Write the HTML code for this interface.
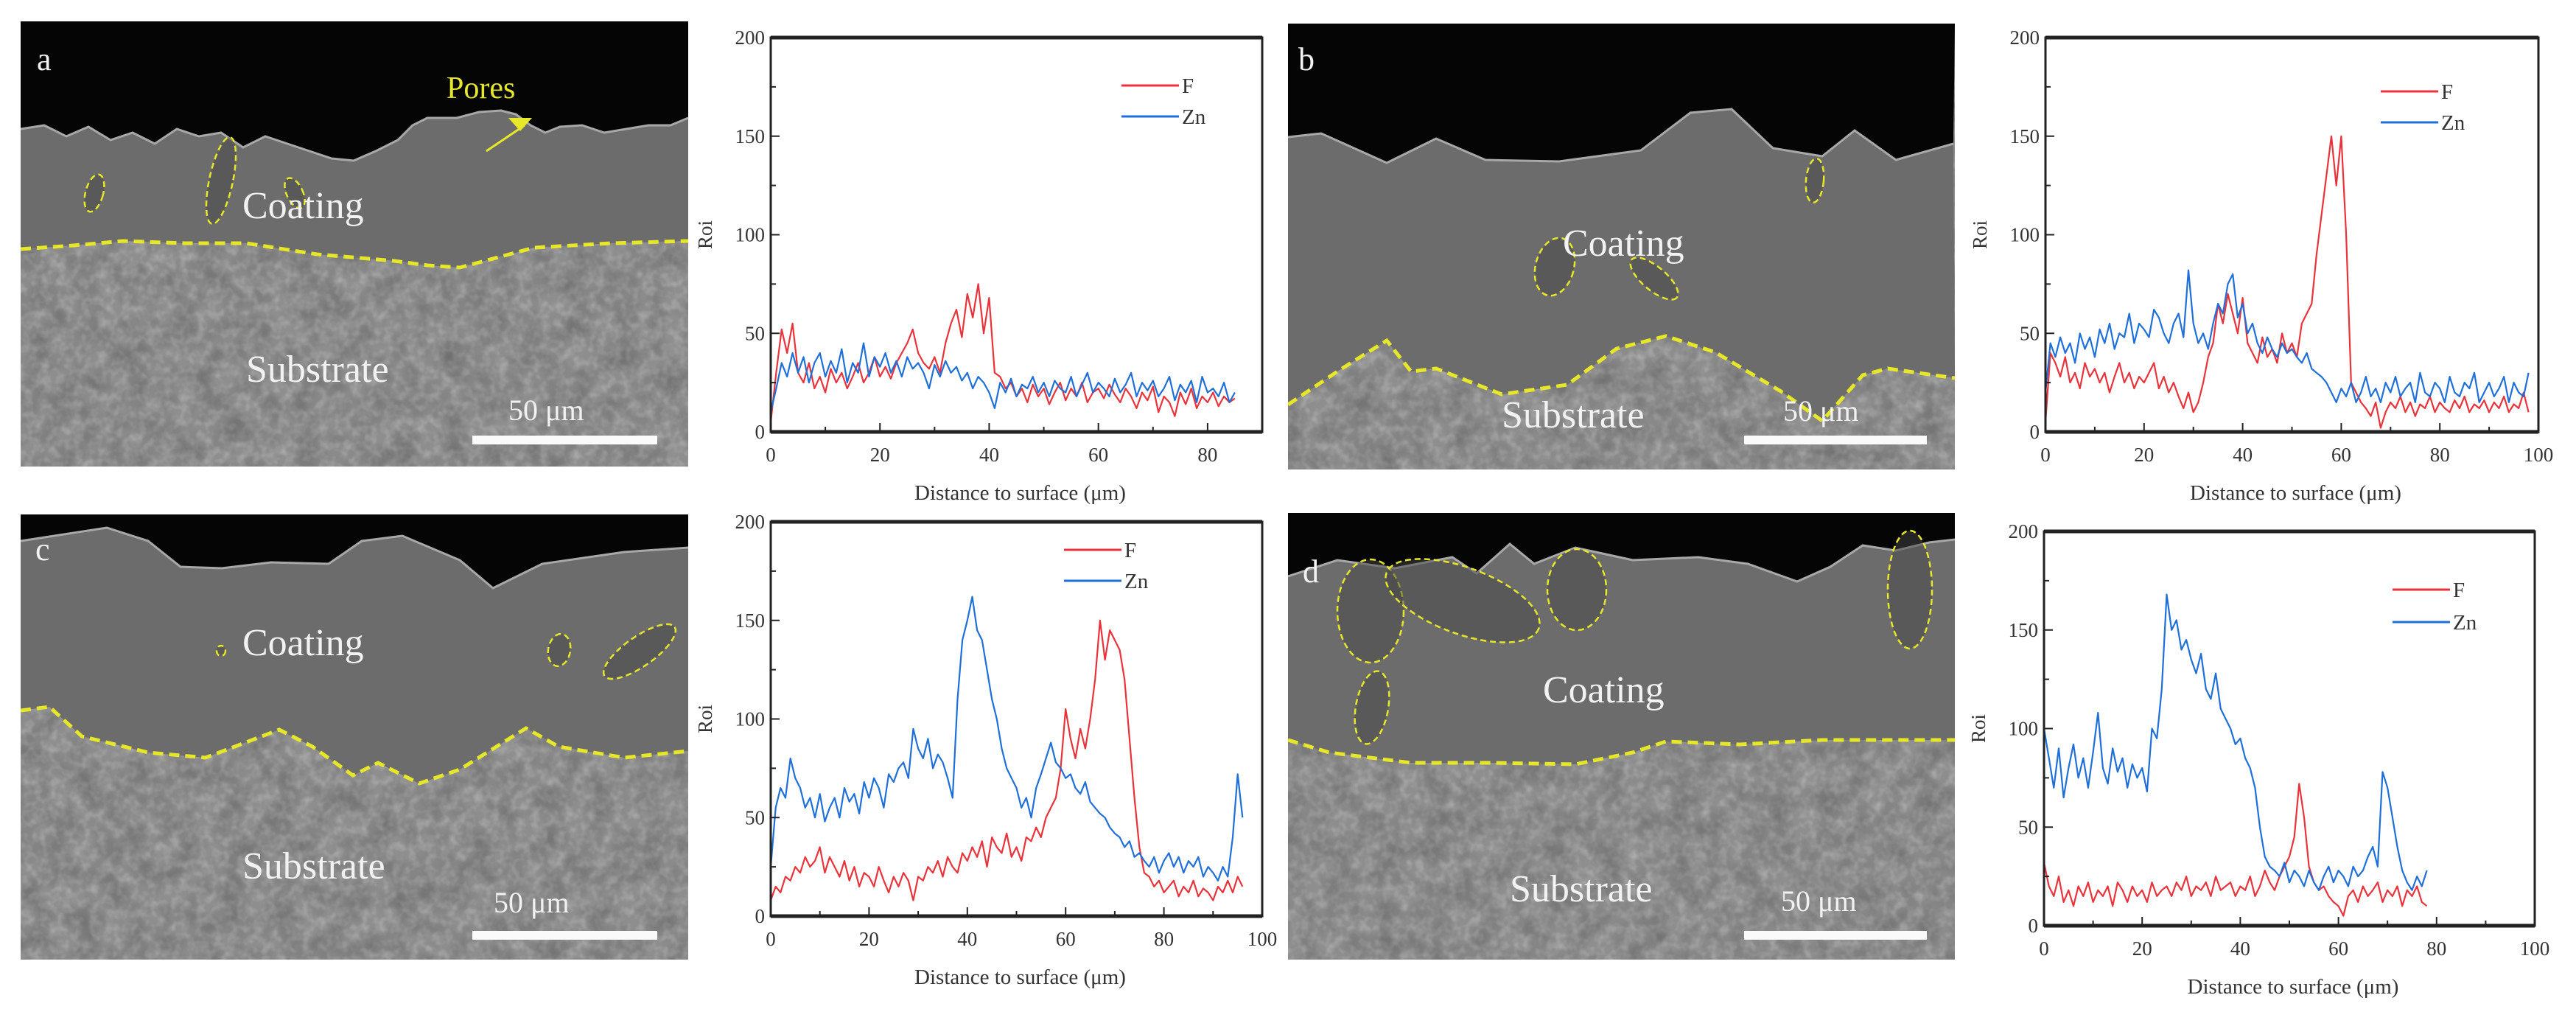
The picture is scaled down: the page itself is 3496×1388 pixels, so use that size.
<!DOCTYPE html>
<html><head><meta charset="utf-8"><style>
html,body{margin:0;padding:0;background:#fff;}
svg{display:block;}
text{font-family:"Liberation Serif",serif;}
</style></head><body>
<svg id="fig" width="3496" height="1388" viewBox="0 0 3496 1388" xmlns="http://www.w3.org/2000/svg">
<defs>
<filter id="grain" x="0" y="0" width="100%" height="100%">
<feTurbulence type="fractalNoise" baseFrequency="0.09" numOctaves="2" seed="3"/>
<feColorMatrix type="matrix" values="0 0 0 0 1  0 0 0 0 1  0 0 0 0 1  0 0 0 0.9 -0.35"/>
</filter>
<filter id="grain2" x="0" y="0" width="100%" height="100%">
<feTurbulence type="fractalNoise" baseFrequency="0.03" numOctaves="2" seed="7"/>
<feColorMatrix type="matrix" values="0 0 0 0 0  0 0 0 0 0  0 0 0 0 0  0 0 0 0.6 -0.2"/>
</filter>
</defs>
<g id="panels"></g>
<g id="charts"></g>
</svg>
<script>
// ---------- chart data ----------
const aX0 = 0;
const aF = [5,30,52,40,55,30,25,35,22,28,20,32,25,30,22,28,35,25,30,38,28,33,27,35,40,45,52,40,35,32,38,30,45,55,62,48,70,58,75,50,68,30,28,22,25,18,22,15,24,18,22,14,20,25,16,22,18,25,15,20,22,17,24,19,15,22,18,12,20,16,23,10,18,15,8,20,14,22,12,18,15,20,13,18,15,17];
const aZn = [10,22,35,28,40,30,38,25,35,40,28,36,30,42,25,35,30,45,28,38,33,40,30,36,28,38,32,35,30,22,34,28,36,30,33,26,30,22,28,25,20,12,25,20,27,18,24,22,28,20,25,18,26,22,20,28,18,24,30,20,25,22,18,27,20,24,30,18,25,21,26,18,22,28,16,24,20,26,15,28,20,22,18,25,15,20];
const bF = [5,40,35,28,38,25,30,22,35,28,32,25,30,20,28,35,25,30,22,28,25,30,35,22,28,20,25,18,12,20,10,15,25,38,45,65,55,70,60,50,68,45,40,35,48,38,42,35,50,40,45,38,55,60,65,90,110,130,150,125,150,100,25,20,15,12,8,15,2,10,15,12,18,10,15,8,14,12,18,10,15,12,10,16,12,18,10,14,12,16,10,15,12,18,10,14,12,20,10];
const bZn = [20,45,38,48,40,45,35,50,42,48,38,52,45,55,42,50,48,60,45,55,52,48,62,58,50,45,55,60,48,82,55,45,50,42,55,65,60,75,80,58,65,50,55,45,40,48,42,38,45,40,42,38,35,40,32,30,28,25,20,15,22,18,25,15,20,28,18,22,15,25,20,28,18,22,25,15,30,20,18,25,22,15,28,20,18,25,22,30,15,20,25,18,22,28,15,25,20,18,30];
const cF = [8,15,12,20,18,25,22,30,25,28,35,22,30,25,20,28,18,25,15,22,20,15,25,18,12,20,15,22,18,8,20,18,25,22,28,20,30,25,22,32,28,35,30,38,25,40,35,32,42,30,35,28,40,38,45,40,50,55,60,75,105,90,80,95,85,100,120,150,130,145,140,135,120,90,60,35,22,20,15,18,12,15,18,10,15,12,18,10,14,12,8,15,12,18,12,20,15];
const cZn = [25,55,65,60,80,70,65,55,60,50,62,48,55,60,50,65,58,62,52,68,60,70,65,55,72,68,75,78,70,95,85,80,90,75,82,78,70,60,110,140,150,162,145,140,125,110,100,85,75,70,65,55,60,50,65,72,80,88,78,75,70,72,65,62,68,58,55,52,50,45,42,40,35,38,30,32,28,25,30,22,28,32,25,30,22,28,25,30,20,25,22,18,25,20,40,72,50];
const dF = [32,20,15,25,12,18,10,20,15,22,12,18,15,20,10,22,18,12,20,15,18,12,22,15,18,20,15,22,18,25,15,20,18,22,15,25,18,20,22,15,20,18,25,15,20,28,22,18,25,30,35,45,72,55,30,22,18,20,15,12,10,5,15,18,12,20,15,18,22,12,18,15,20,10,18,15,20,12,10];
const dZn = [100,85,70,90,65,80,92,75,85,70,88,108,80,72,90,78,85,70,82,75,80,68,100,95,120,168,150,155,140,145,135,128,138,120,115,128,110,105,100,92,95,85,80,70,50,35,30,28,25,32,22,28,25,20,28,22,18,25,30,22,28,25,20,30,25,28,35,40,30,78,70,55,40,28,22,18,25,20,28];
const yTicks = [0,50,100,150,200];
const xTicksA = [0,20,40,60,80];
const xTicksB = [0,20,40,60,80,100];

const NS = 'http://www.w3.org/2000/svg';
function mk(tag, attrs, parent, txt){
  const e = document.createElementNS(NS, tag);
  for (const k in attrs) e.setAttribute(k, attrs[k]);
  if (txt !== undefined) e.textContent = txt;
  parent.appendChild(e);
  return e;
}
const charts = document.getElementById('charts');
const panels = document.getElementById('panels');

function drawChart(id, L, R, T, B, xmax, xticks, F, Zn, leg){
  const g = mk('g', {}, charts);
  
  
  const sx = v => L + (R - L) * v / xmax;
  const sy = v => B - (B - T) * v / 200;
  // series
  const mkLine = (arr, color, name) => {
    let d = '';
    arr.forEach((v, i) => { d += (i ? 'L' : 'M') + sx(i).toFixed(1) + ',' + sy(v).toFixed(1); });
    const p = mk('path', {d: d, fill: 'none', stroke: color, 'stroke-width': 2.2, 'stroke-linejoin': 'round'}, g);
    
    
  };
  mkLine(F, '#e8333b', 'series-f-' + id);
  mkLine(Zn, '#1f6fd8', 'series-zn-' + id);
  // frame
  const fr = mk('rect', {x: L, y: T, width: R - L, height: B - T, fill: 'none', stroke: '#222', 'stroke-width': 3}, g);
  
  
  mk('line', {x1: L, y1: T, x2: R, y2: T, stroke: '#222', 'stroke-width': 5}, g);
  mk('line', {x1: L, y1: B, x2: R, y2: B, stroke: '#222', 'stroke-width': 5}, g);
  // y ticks
  for (let v = 0; v <= 200; v += 25) {
    const len = v % 50 === 0 ? 12 : 7;
    mk('line', {x1: L, y1: sy(v), x2: L + len, y2: sy(v), stroke: '#222', 'stroke-width': 2}, g);
  }
  yTicks.forEach(v => {
    const t = mk('text', {x: L - 8, y: sy(v) + 9, 'text-anchor': 'end', 'font-size': 27, fill: '#333'}, g, String(v));
    
    
  });
  // x ticks
  for (let v = 0; v <= xmax; v += 10) {
    const len = v % 20 === 0 ? 12 : 7;
    mk('line', {x1: sx(v), y1: B, x2: sx(v), y2: B - len, stroke: '#222', 'stroke-width': 2}, g);
  }
  xticks.forEach(v => {
    const t = mk('text', {x: sx(v), y: B + 40, 'text-anchor': 'middle', 'font-size': 27, fill: '#333'}, g, String(v));
    
    
  });
  const yt = mk('text', {x: L - 80, y: (T + B) / 2, 'text-anchor': 'middle', 'font-size': 27, fill: '#333', transform: 'rotate(-90 ' + (L - 80) + ' ' + ((T + B) / 2) + ')'}, g, 'Roi');
  
  
  const xt = mk('text', {x: (L + R) / 2 + 5, y: B + 92, 'text-anchor': 'middle', 'font-size': 29, fill: '#333'}, g, 'Distance to surface (\u03bcm)');
  
  
  // legend
  const lg = mk('g', {}, g);
  
  
  [['F', '#e8333b', leg.y1], ['Zn', '#1f6fd8', leg.y2]].forEach(([n, c, y]) => {
    mk('line', {x1: leg.x, y1: y, x2: leg.x + 78, y2: y, stroke: c, 'stroke-width': 3}, lg);
    const t = mk('text', {x: leg.x + 82, y: y + 10, 'font-size': 29, fill: '#333'}, lg, n);
    
    
  });
}
drawChart('a', 1046, 1713, 51, 586, 90, xTicksA, aF, aZn, {x: 1522, y1: 116, y2: 158});
drawChart('b', 2776, 3445, 51, 586, 100, xTicksB, bF, bZn, {x: 3231, y1: 124, y2: 166});
drawChart('c', 1046, 1713, 708, 1243, 100, xTicksB, cF, cZn, {x: 1444, y1: 746, y2: 788});
drawChart('d', 2774, 3440, 721, 1256, 100, xTicksB, dF, dZn, {x: 3247, y1: 800, y2: 844});

// ---------- SEM image panels ----------
function poly(pts){ let d=''; for(let i=0;i<pts.length;i+=2){ d += (i?'L':'M') + pts[i] + ',' + pts[i+1]; } return d; }
function drawPanel(id, x0, y0, x1, y1, surf, iface, pores, labels){
  const g = mk('g', {}, panels);
  
  
  const cid = 'clip' + id;
  const cp = mk('clipPath', {id: cid}, g);
  mk('rect', {x: x0, y: y0, width: x1 - x0, height: y1 - y0}, cp);
  const inner = mk('g', {'clip-path': 'url(#' + cid + ')'}, g);
  mk('rect', {x: x0, y: y0, width: x1 - x0, height: y1 - y0, fill: '#8e8e8e'}, inner);
  mk('rect', {x: x0, y: y0, width: x1 - x0, height: y1 - y0, fill: '#fff', filter: 'url(#grain)', opacity: 0.55}, inner);
  mk('rect', {x: x0, y: y0, width: x1 - x0, height: y1 - y0, fill: '#000', filter: 'url(#grain2)', opacity: 0.6}, inner);
  // coating
  const ptsI = iface.slice();
  let d = poly(surf);
  for (let i = ptsI.length - 2; i >= 0; i -= 2) d += 'L' + ptsI[i] + ',' + ptsI[i + 1];
  d += 'Z';
  mk('path', {d: d, fill: '#6c6c6c'}, inner);
  // black top
  mk('path', {d: poly(surf) + 'L' + x1 + ',' + y0 + 'L' + x0 + ',' + y0 + 'Z', fill: '#050505'}, inner);
  mk('path', {d: poly(surf), fill: 'none', stroke: '#a8a8a8', 'stroke-width': 3}, inner);
  const il = mk('path', {d: poly(iface), fill: 'none', stroke: '#e6e62a', 'stroke-width': 5, 'stroke-dasharray': '14 8'}, inner);
  
  
  pores.forEach(p => {
    const e = mk('ellipse', {cx: p[0], cy: p[1], rx: p[2], ry: p[3], transform: 'rotate(' + (p[4]||0) + ' ' + p[0] + ' ' + p[1] + ')', fill: 'rgba(70,70,70,0.5)', stroke: '#e6e62a', 'stroke-width': 2.5, 'stroke-dasharray': '8 5'}, inner);
    
    
  });
  labels.forEach(l => {
    const t = mk('text', {x: l[1], y: l[2], 'font-size': l[3], fill: l[4] || '#f2f2f2'}, inner, l[0]);
    
    
  });
}
drawPanel('a', 28, 29, 934, 633,
  [28,175,60,170,90,185,120,172,150,190,180,180,210,195,240,175,270,185,300,180,330,200,360,185,390,195,420,205,450,215,480,218,510,205,540,190,560,170,580,160,620,160,650,152,680,150,700,155,720,170,740,180,760,172,790,170,820,180,850,175,880,170,910,170,934,160],
  [28,338,100,333,167,327,250,330,334,330,430,345,535,354,580,360,624,363,680,348,725,336,830,330,934,327],
  [[128,262,12,26,15],[300,245,16,60,12],[400,262,11,22,-25]],
  [['a',50,95,44,'#f2f2f2','panel-label'],['Pores',606,133,42,'#e8e82a','pores-label'],['Coating',329,296,52,'#f2f2f2','coating-label'],['Substrate',334,518,52,'#f2f2f2','substrate-label'],['50 \u03bcm',690,570,40,'#f2f2f2','scale-label']]);
drawPanel('b', 1748, 32, 2653, 637,
  [1748,186,1793,181,1882,221,1949,188,2016,217,2116,219,2227,204,2294,153,2350,148,2406,201,2473,212,2517,177,2573,217,2651,195],
  [1748,549,1815,504,1882,462,1915,504,1949,500,2038,535,2127,522,2194,473,2261,456,2328,478,2417,531,2473,571,2528,509,2562,500,2653,513],
  [[2110,362,26,40,15],[2245,378,40,16,40],[2463,245,12,30,5]],
  [['b',1762,95,44,'#f2f2f2','panel-label'],['Coating',2121,347,52,'#f2f2f2','coating-label'],['Substrate',2038,580,52,'#f2f2f2','substrate-label'],['50 \u03bcm',2420,571,40,'#f2f2f2','scale-label']]);
drawPanel('c', 28, 698, 934, 1302,
  [28,734,145,716,201,734,245,769,301,771,368,763,446,765,491,734,546,727,624,760,669,798,736,765,847,749,934,743],
  [28,964,67,959,111,999,201,1021,279,1028,379,990,424,1013,479,1052,513,1035,569,1063,624,1044,714,988,758,1013,847,1028,934,1019],
  [[300,883,6,7,0],[759,882,15,22,10],[868,884,58,20,-35]],
  [['c',48,760,44,'#f2f2f2','panel-label'],['Coating',329,889,52,'#f2f2f2','coating-label'],['Substrate',329,1192,52,'#f2f2f2','substrate-label'],['50 \u03bcm',670,1238,40,'#f2f2f2','scale-label']]);
drawPanel('d', 1748, 696, 2653, 1302,
  [1748,782,1815,760,1893,771,1971,756,2004,778,2049,738,2082,765,2138,743,2216,760,2305,756,2372,765,2439,789,2484,769,2528,740,2573,747,2618,736,2653,732],
  [1748,1004,1804,1021,1915,1035,2027,1035,2138,1037,2216,1021,2261,1006,2361,1010,2473,1004,2653,1004],
  [[1860,829,45,70,0],[1985,815,110,45,20],[2140,800,40,55,0],[1862,960,22,50,10],[2592,800,30,80,0]],
  [['d',1768,790,44,'#f2f2f2','panel-label'],['Coating',2094,953,52,'#f2f2f2','coating-label'],['Substrate',2049,1223,52,'#f2f2f2','substrate-label'],['50 \u03bcm',2417,1236,40,'#f2f2f2','scale-label']]);
// scale bars and pores arrow
[[641,591,251],[2367,591,248],[641,1263,251],[2367,1263,248]].forEach(s => {
  const r = mk('rect', {x: s[0], y: s[1], width: s[2], height: 12, fill: '#fafafa'}, panels);
  
  
});
const ar = mk('path', {d: 'M690,160 L722,160 L706,178 Z', fill: '#e8e82a'}, panels);


mk('path', {d: 'M660,205 L712,170', stroke: '#e8e82a', 'stroke-width': 3, fill: 'none'}, panels);
</script>
</body></html>
